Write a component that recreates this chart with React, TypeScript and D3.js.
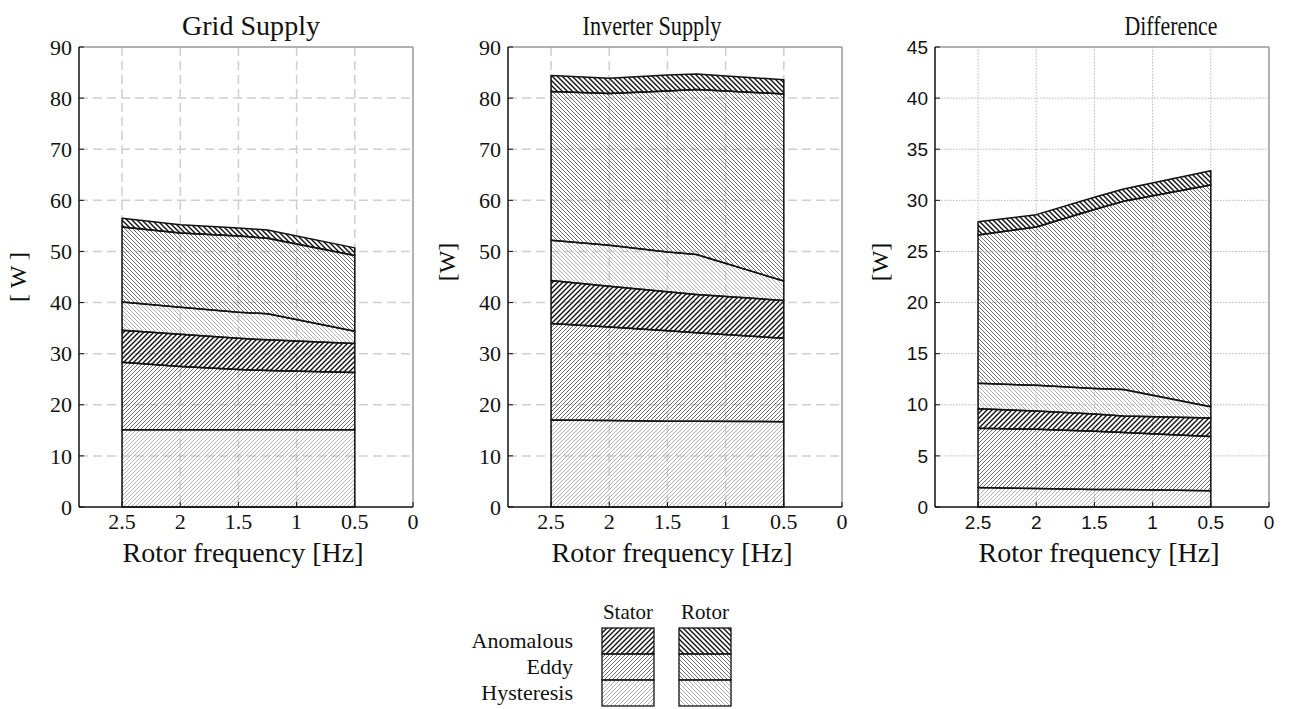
import React from "react";
import * as d3 from "d3";

// ---------- data ----------
const freqs = [2.5, 2, 1.5, 1.25, 0.5];
const xTicks = [2.5, 2, 1.5, 1, 0.5, 0];
const layerKeys = ["sh", "se", "sa", "rh", "re", "ra"];
const legendRows = ["Anomalous", "Eddy", "Hysteresis"];
const legendCols = ["Stator", "Rotor"];

// Grid supply (W), per component
const gridSH = [15.1, 15.1, 15.1, 15.1, 15.1];
const gridSE = [13.2, 12.4, 11.8, 11.6, 11.2];
const gridSA = [6.3, 6.3, 6.1, 6.0, 5.7];
const gridRH = [5.5, 5.3, 5.1, 5.1, 2.4];
const gridRE = [14.7, 14.5, 14.9, 14.8, 14.8];
const gridRA = [1.7, 1.6, 1.6, 1.6, 1.5];

// Inverter supply (W)
const invSH = [17.0, 16.9, 16.8, 16.8, 16.7];
const invSE = [18.9, 18.3, 17.7, 17.3, 16.3];
const invSA = [8.4, 8.0, 7.6, 7.5, 7.4];
const invRH = [7.9, 8.0, 7.8, 7.8, 3.8];
const invRE = [29.1, 29.7, 31.5, 32.3, 36.6];
const invRA = [3.1, 3.0, 3.1, 3.0, 2.8];

// Difference (W)
const difSH = [1.9, 1.8, 1.7, 1.7, 1.6];
const difSE = [5.8, 5.8, 5.7, 5.6, 5.3];
const difSA = [1.9, 1.8, 1.7, 1.6, 1.8];
const difRH = [2.5, 2.5, 2.5, 2.6, 1.1];
const difRE = [14.5, 15.5, 17.5, 18.4, 21.7];
const difRA = [1.3, 1.2, 1.2, 1.2, 1.4];

const gridYTicks = [0, 10, 20, 30, 40, 50, 60, 70, 80, 90];
const difYTicks = [0, 5, 10, 15, 20, 25, 30, 35, 40, 45];

// ---------- layout ----------
const W = 1297, H = 709;
const PW = 334, PH = 460, TOP = 47;
const SERIF = "'Liberation Serif', 'Times New Roman', serif";
const SANS = "'Liberation Sans', Arial, sans-serif";

const patternStyle: Record<string, { dir: number; s: number; color: string; w: number }> = {
  sh: { dir: 1, s: 4, color: "#b0b0b0", w: 1 },
  se: { dir: 1, s: 4, color: "#707070", w: 1 },
  sa: { dir: 1, s: 5, color: "#111", w: 1.4 },
  rh: { dir: -1, s: 4, color: "#b0b0b0", w: 1 },
  re: { dir: -1, s: 4, color: "#707070", w: 1 },
  ra: { dir: -1, s: 5, color: "#111", w: 1.4 },
};

function hatchPath(dir: number, s: number) {
  if (dir > 0) return `M-1,1 l2,-2 M0,${s} l${s},${-s} M${s - 1},${s + 1} l2,-2`;
  return `M-1,${s - 1} l2,2 M0,0 l${s},${s} M${s - 1},-1 l2,2`;
}

type PanelProps = {
  x0: number;
  title: string;
  titleX: number;
  titleLen?: number;
  ylabel: string;
  ylabelX: number;
  ylabelY: number;
  yMax: number;
  yTicks: number[];
  series: number[][];
  dotted?: boolean;
  tickFont: string;
  tickSize: number;
};

function Panel({ x0, title, titleX, titleLen, ylabel, ylabelX, ylabelY, yMax, yTicks, series, dotted, tickFont, tickSize }: PanelProps) {
  const x = d3.scaleLinear().domain([2.87, 0]).range([0, PW]);
  const y = d3.scaleLinear().domain([0, yMax]).range([PH, 0]);
  const rows = freqs.map((f, i) => {
    const r: any = { f };
    layerKeys.forEach((k, j) => (r[k] = series[j][i]));
    return r;
  });
  const stacked = d3.stack<any>().keys(layerKeys)(rows);
  const area = d3
    .area<any>()
    .x((d) => x(d.data.f))
    .y0((d) => y(d[0]))
    .y1((d) => y(d[1]));
  const gridColor = dotted ? "#b8b8b8" : "#cfcfcf";
  const dash = dotted ? "1.5,1.5" : "9,5";
  const gw = dotted ? 1 : 1.5;
  const lenProps = titleLen ? { textLength: titleLen, lengthAdjust: "spacingAndGlyphs" } : {};
  return (
    <g transform={`translate(${x0},${TOP})`}>
      {/* grid */}
      {xTicks.slice(0, 5).map((t) => (
        <line key={"gx" + t} x1={x(t)} x2={x(t)} y1={0} y2={PH} stroke={gridColor} strokeWidth={gw} strokeDasharray={dash} />
      ))}
      {yTicks.slice(1, -1).map((t) => (
        <line key={"gy" + t} x1={0} x2={PW} y1={y(t)} y2={y(t)} stroke={gridColor} strokeWidth={gw} strokeDasharray={dash} />
      ))}
      {/* areas */}
      {stacked.map((s) => (
        <path key={s.key} d={area(s) || ""} fill={`url(#hatch-${s.key})`} stroke="#111" strokeWidth={1.5} strokeLinejoin="round" />
      ))}
      {/* frame */}
      <line x1={0} x2={PW} y1={0} y2={0} stroke="#999" strokeWidth={1.5} />
      <line x1={PW} x2={PW} y1={0} y2={PH} stroke="#999" strokeWidth={1.5} />
      <line x1={0} x2={0} y1={0} y2={PH} stroke="#111" strokeWidth={1.5} />
      <line x1={0} x2={PW} y1={PH} y2={PH} stroke="#111" strokeWidth={1.5} />
      {/* ticks */}
      {xTicks.map((t) => (
        <g key={"xt" + t}>
          <line x1={x(t)} x2={x(t)} y1={PH} y2={PH - 5} stroke="#111" strokeWidth={1} />
          <text x={x(t)} y={PH + 22} textAnchor="middle" fontFamily={tickFont} fontSize={tickSize} fill="#111">
            {String(t)}
          </text>
        </g>
      ))}
      {yTicks.map((t) => (
        <g key={"yt" + t}>
          <line x1={0} x2={5} y1={y(t)} y2={y(t)} stroke="#111" strokeWidth={1} />
          <text x={-7} y={y(t)} dy="0.35em" textAnchor="end" fontFamily={tickFont} fontSize={tickSize} fill="#111">
            {String(t)}
          </text>
        </g>
      ))}
      {/* labels */}
      <text x={titleX - x0} y={-12} textAnchor="middle" fontFamily={SERIF} fontSize={27} fill="#111" {...lenProps}>
        {title}
      </text>
      <text x={PW / 2 - 3} y={PH + 55} textAnchor="middle" fontFamily={SERIF} fontSize={28} fill="#111">
        Rotor frequency [Hz]
      </text>
      <text transform={`translate(${ylabelX - x0},${ylabelY - TOP}) rotate(-90)`} dy="0.35em" textAnchor="middle" fontFamily={SERIF} fontSize={24} fill="#111">
        {ylabel}
      </text>
    </g>
  );
}

export default function App() {
  const legX = [602, 679];
  const legW = 52, legH = 26, legY = 628;
  const legendKeys = [
    ["sa", "se", "sh"],
    ["ra", "re", "rh"],
  ];
  return (
    <div style={{ position: "absolute", left: 0, top: 0 }}>
      <svg width={W} height={H} style={{ display: "block", background: "#fff" }}>
        <defs>
          {layerKeys.map((k) => {
            const p = patternStyle[k];
            return (
              <pattern key={k} id={`hatch-${k}`} patternUnits="userSpaceOnUse" width={p.s} height={p.s}>
                <path d={hatchPath(p.dir, p.s)} stroke={p.color} strokeWidth={p.w} />
              </pattern>
            );
          })}
        </defs>
        <Panel x0={79} title="Grid Supply" titleX={251} titleLen={138} ylabel="[ W ]" ylabelX={18} ylabelY={277} yMax={90} yTicks={gridYTicks}
          series={[gridSH, gridSE, gridSA, gridRH, gridRE, gridRA]} tickFont={SERIF} tickSize={22} />
        <Panel x0={508} title="Inverter Supply" titleX={652} titleLen={139} ylabel="[W]" ylabelX={447} ylabelY={262} yMax={90} yTicks={gridYTicks}
          series={[invSH, invSE, invSA, invRH, invRE, invRA]} tickFont={SERIF} tickSize={22} />
        <Panel x0={935} title="Difference" titleX={1171} titleLen={93} ylabel="[W]" ylabelX={880} ylabelY={262} yMax={45} yTicks={difYTicks}
          series={[difSH, difSE, difSA, difRH, difRE, difRA]} dotted tickFont={SANS} tickSize={19} />
        {/* legend */}
        {legendCols.map((c, ci) => (
          <text key={c} x={legX[ci] + legW / 2} y={619} textAnchor="middle" fontFamily={SERIF} fontSize={21} fill="#111">
            {c}
          </text>
        ))}
        {legendRows.map((r, ri) => (
          <text key={r} x={573} y={legY + ri * legH + legH / 2} dy="0.33em" textAnchor="end" fontFamily={SERIF} fontSize={22} fill="#111">
            {r}
          </text>
        ))}
        {legendKeys.map((col, ci) =>
          col.map((k, ri) => (
            <rect key={k} x={legX[ci]} y={legY + ri * legH} width={legW} height={legH}
              fill={`url(#hatch-${k})`} stroke="#111" strokeWidth={1.3} />
          ))
        )}
      </svg>
    </div>
  );
}
